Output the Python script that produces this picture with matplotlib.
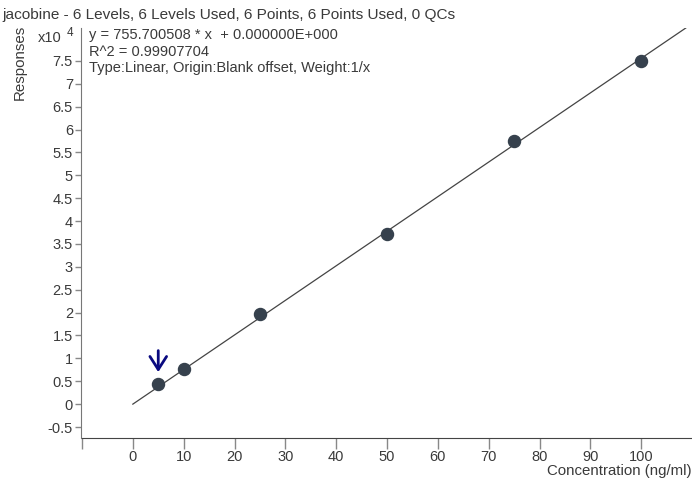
import matplotlib
matplotlib.use("Agg")
import matplotlib.pyplot as plt
import numpy as np

# calibration points (concentration ng/ml, response in x10^4)
conc = [5, 10, 25, 50, 75, 100]
resp = [0.44, 0.76, 1.97, 3.71, 5.76, 7.50]
slope = 755.700508
xticks = [0, 10, 20, 30, 40, 50, 60, 70, 80, 90, 100]
yticks = [-0.5, 0, 0.5, 1, 1.5, 2, 2.5, 3, 3.5, 4, 4.5, 5, 5.5, 6, 6.5, 7, 7.5]

txt = "#3a3a3a"
plt.rcParams["font.family"] = ["Liberation Sans", "DejaVu Sans"]

fig = plt.figure(figsize=(6.92, 4.78), dpi=100)
ax = fig.add_axes([0.1185, 0.0837, 0.8815, 0.8577])
ax.set_xlim(-10, 110)
ax.set_ylim(-0.74, 8.22)

# fitted line, through origin, clipped at top of axes
xl = np.array([0, 8.22e4 / slope])
ax.plot(xl, xl * slope / 1e4, color="#444444", lw=0.9, zorder=2)
ax.scatter(conc, resp, s=75, color="#36414d", zorder=3)

ax.annotate("", xy=(5, 0.70), xytext=(5, 1.17),
            arrowprops=dict(arrowstyle="->,head_length=0.47,head_width=0.3",
                            color="#0a0a80", lw=2.0, mutation_scale=20,
                            shrinkA=0, shrinkB=0))

for s in ["top", "right"]:
    ax.spines[s].set_visible(False)
ax.spines["left"].set_color("#777777")
ax.spines["bottom"].set_color("#444444")
ax.spines["left"].set_position(("outward", 1))

ax.set_xticks([-10] + xticks)
ax.set_xticklabels([""] + [str(v) for v in xticks])
ax.set_yticks(yticks)
ax.set_yticklabels([f"{v:g}" for v in yticks])
ax.tick_params(axis="both", colors="#888888", labelcolor=txt, labelsize=10.5,
               width=1)
ax.tick_params(axis="y", length=4, pad=1.5)
ax.tick_params(axis="x", length=8, pad=0.8)

fig.text(0.029, 1 - 25 / 478, "Responses", rotation=90,
         ha="center", va="top", fontsize=10.8, color=txt)
ax.text(1.0, -0.081, "Concentration (ng/ml)", transform=ax.transAxes,
        ha="right", va="center", fontsize=10.8, color=txt)
fig.text(0.003, 0.968, "jacobine - 6 Levels, 6 Levels Used, 6 Points, 6 Points Used, 0 QCs",
         ha="left", va="center", fontsize=11.1, color=txt)
fig.text(0.055, 0.921, "x10", ha="left", va="center", fontsize=10.5, color=txt)
fig.text(0.097, 0.93, "4", ha="left", va="center", fontsize=8.5, color=txt)

info = ["y = 755.700508 * x  + 0.000000E+000",
        "R^2 = 0.99907704",
        "Type:Linear, Origin:Blank offset, Weight:1/x"]
for i, line in enumerate(info):
    fig.text(0.128, 0.926 - i * 0.034, line, ha="left", va="center",
             fontsize=10.5, color=txt)

fig.savefig("out.png", dpi=100)
